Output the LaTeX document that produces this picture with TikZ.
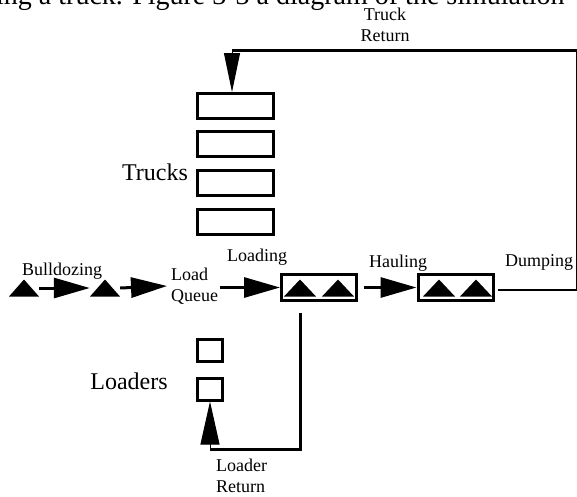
\documentclass[tikz,border=0pt]{standalone}
\usepackage{fontspec}
\setmainfont{Liberation Serif}
\usetikzlibrary{arrows.meta}
\begin{document}
\begin{tikzpicture}[x=1pt,y=-1pt,
  box/.style={draw, line width=3pt, inner sep=0pt},
  tbox/.style={box, minimum width=76pt, minimum height=25pt},
  lbox/.style={box, minimum width=25pt, minimum height=22pt},
  pbox/.style={box, minimum width=75pt, minimum height=26pt},
  tri/.style={inner sep=0pt, minimum width=#1pt, minimum height=17pt,
    path picture={\fill (path picture bounding box.south west) -- (path picture bounding box.south east) -- (path picture bounding box.north) -- cycle;}},
  tri/.default=30,
  lab/.style={font=\fontsize{18}{21}\selectfont, inner sep=0pt, align=center},
  big/.style={font=\fontsize{24}{26}\selectfont, inner sep=0pt},
  flow/.style={line width=3pt, -{Triangle[length=36pt,width=20pt]}},
]
\useasboundingbox (0,0) rectangle (577,496);
\fill[white] (0,0) rectangle (577,496);
% clipped page text at top
\node[anchor=base west, inner sep=0pt, font=\fontsize{28}{30}\selectfont] (pagetext) at (-4,4) {ing a truck. Figure 3-3 a diagram of the simulation};

% trucks
\node[tbox] (t1) at (235.5,106) {};
\node[tbox] (t2) at (235.5,144) {};
\node[tbox] (t3) at (235.5,183) {};
\node[tbox] (t4) at (235.5,222) {};
\node[big] (trucks) at (155,172) {Trucks};

% loaders
\node[lbox] (l1) at (210,350.5) {};
\node[lbox] (l2) at (210,389) {};
\node[big] (loaders) at (129,381) {Loaders};

% bulldozing
\node[tri] (b1) at (24,288) {};
\node[tri] (b2) at (105,288) {};
\node[lab] (bull) at (62,271) {Bulldozing};
\node[lab, align=left, anchor=west] (lq) at (171,286) {Load\\Queue};

% loading and hauling
\node[pbox] (ld) at (319,287.5) {};
\node[tri=32] (ld1) at (300,288) {};
\node[tri=32] (ld2) at (338,288) {};
\node[lab] (loading) at (257,257) {Loading};
\node[pbox] (hl) at (455.5,287.5) {};
\node[tri=32] (hl1) at (439,288) {};
\node[tri=32] (hl2) at (476,288) {};
\node[lab] (hauling) at (398,263) {Hauling};
\node[lab] (dumping) at (539,262) {Dumping};

\node[lab] (truckret) at (385,25) {Truck\\Return};
\node[lab, align=left, anchor=west] (loadret) at (216,476) {Loader\\Return};

% flow arrows
\draw[flow] (b1.east) -- (b2.west);
\draw[flow] (b2.east) -- ([xshift=-4pt]lq.west);
\draw[flow] ([xshift=2pt]lq.east |- ld.west) -- (ld.west);
\draw[flow] ([xshift=3pt]hl.east -| ld.east) ++(3,0) -- (hl.west);

% dumping and truck return
\coordinate (dumpend) at (576.5,290);
\coordinate (topright) at (576.5,50);
\coordinate (topleft) at (232,50);
\draw[line width=2pt] ([xshift=3pt]hl.east |- dumpend) -- (dumpend);
\draw[line width=1pt] (dumpend) -- (topright);
\draw[line width=3pt] (topright) -- (topleft);
\draw[line width=1pt, -{Triangle[length=39pt,width=16pt]}] (topleft) -- (topleft |- t1.north);

% loader return
\coordinate (ls) at (300,313);
\coordinate (lc) at (300,449);
\draw[line width=3pt] (ls) -- (lc) -- (lc -| l2.south);
\draw[line width=1pt, -{Triangle[length=43pt,width=19pt]}] (lc -| l2.south) -- (l2.south);
\end{tikzpicture}
\end{document}
